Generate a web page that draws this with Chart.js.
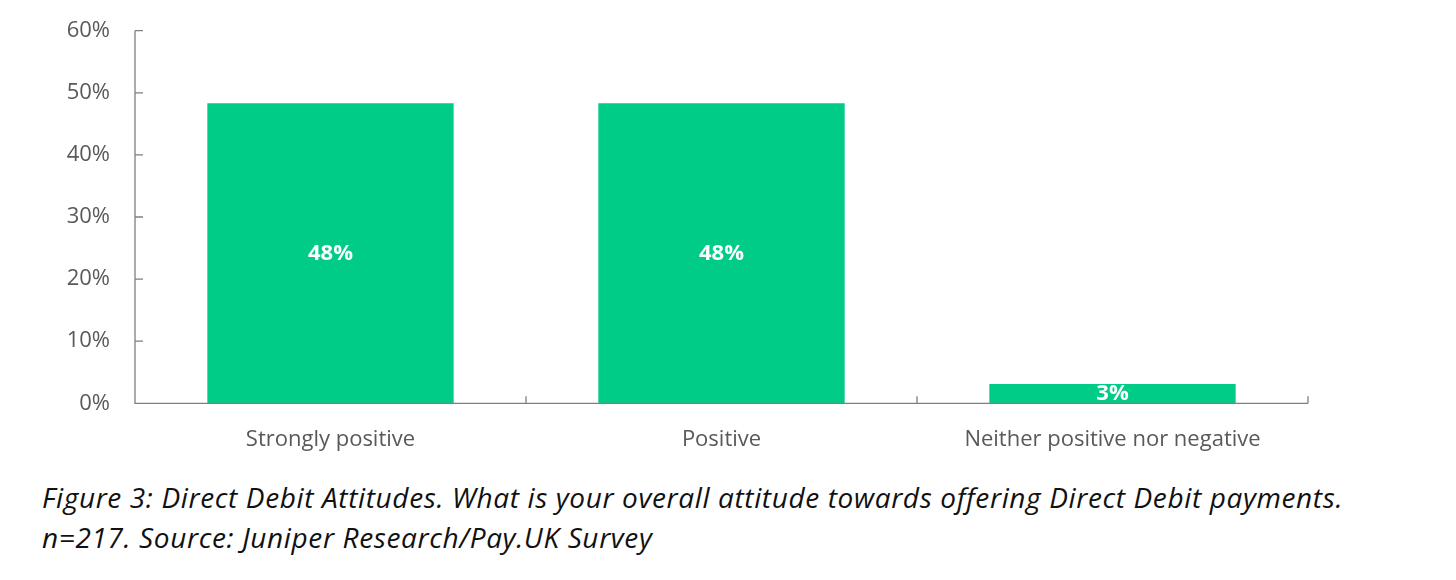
<!DOCTYPE html>
<html>
<head>
<meta charset="utf-8">
<script src="https://cdn.jsdelivr.net/npm/chart.js@4.4.1/dist/chart.umd.min.js"></script>
<style>
    body { margin: 0; background: #fff; }
    #wrap { position: relative; width: 1456px; height: 580px; }
    #chartBox { position: absolute; left: 0; top: 0; width: 1456px; height: 470px; }
    #caption {
        position: absolute; left: 42px; top: 477px;
        font-family: 'Open Sans', sans-serif; font-style: italic;
        font-size: 28px; line-height: 40px; color: #111;
        letter-spacing: 0.63px; white-space: nowrap;
    }
</style>
</head>
<body>
<div id="wrap">
    <div id="chartBox"><canvas id="chart" width="1456" height="470"></canvas></div>
    <div id="caption">Figure 3: Direct Debit Attitudes. What is your overall attitude towards offering Direct Debit payments.<br>n=217. Source: Juniper Research/Pay.UK Survey</div>
</div>
<script>
const categories = ['Strongly positive', 'Positive', 'Neither positive nor negative'];
const shares = [48.3, 48.3, 3.1];
const shareLabels = ['48%', '48%', '3%'];
const yTicks = [0, 10, 20, 30, 40, 50, 60];

const axisColor = '#7f7f7f';
const textColor = '#595959';

// axis lines with short inward tick marks, like the original
const axesPlugin = {
    id: 'axes',
    afterDatasetsDraw(chart) {
        const ctx = chart.ctx;
        const x = chart.scales.x;
        const y = chart.scales.y;
        const base = y.getPixelForValue(0);
        ctx.save();
        ctx.strokeStyle = axisColor;
        ctx.lineWidth = 1.3;
        ctx.beginPath();
        ctx.moveTo(x.left, y.getPixelForValue(60));
        ctx.lineTo(x.left, base);
        ctx.lineTo(x.right, base);
        yTicks.forEach(v => {
            const py = y.getPixelForValue(v);
            ctx.moveTo(x.left, py);
            ctx.lineTo(x.left + 8, py);
        });
        for (let i = 1; i <= categories.length; i++) {
            const px = i < categories.length
                ? (x.getPixelForValue(i - 1) + x.getPixelForValue(i)) / 2
                : x.right;
            ctx.moveTo(px, base);
            ctx.lineTo(px, base - 7);
        }
        ctx.stroke();
        ctx.restore();
    }
};

const barLabels = {
    id: 'barLabels',
    afterDraw(chart) {
        const ctx = chart.ctx;
        const meta = chart.getDatasetMeta(0);
        ctx.save();
        ctx.fillStyle = '#fff';
        ctx.font = 'bold 22px "Open Sans"';
        ctx.textAlign = 'center';
        ctx.textBaseline = 'middle';
        meta.data.forEach((bar, i) => {
            ctx.fillText(shareLabels[i], bar.x, (bar.y + bar.base) / 2);
        });
        ctx.restore();
    }
};

new Chart(document.getElementById('chart'), {
    type: 'bar',
    data: {
        labels: categories,
        datasets: [{
            data: shares,
            backgroundColor: '#00cc88',
            borderWidth: 0,
            barPercentage: 0.63,
            categoryPercentage: 1
        }]
    },
    options: {
        responsive: false,
        animation: false,
        layout: { padding: { left: 0, right: 148, top: 30.7, bottom: 0 } },
        plugins: { legend: { display: false }, tooltip: { enabled: false } },
        scales: {
            x: {
                grid: { display: false, drawTicks: false },
                border: { display: false },
                ticks: { color: textColor, font: { family: 'Open Sans', size: 22 }, padding: 23, maxRotation: 0 },
                afterFit(scale) { scale.height = 470 - 403.3; }
            },
            y: {
                min: 0,
                max: 60,
                grid: { display: false, drawTicks: false },
                border: { display: false },
                ticks: {
                    stepSize: 10,
                    color: textColor,
                    font: { family: 'Open Sans', size: 22 },
                    padding: 25,
                    callback: v => v + '%'
                },
                afterFit(scale) {
                    scale.width = 135;
                    scale.paddingTop = 0;
                    scale.paddingBottom = 0;
                }
            }
        }
    },
    plugins: [axesPlugin, barLabels]
});
</script>
</body>
</html>
